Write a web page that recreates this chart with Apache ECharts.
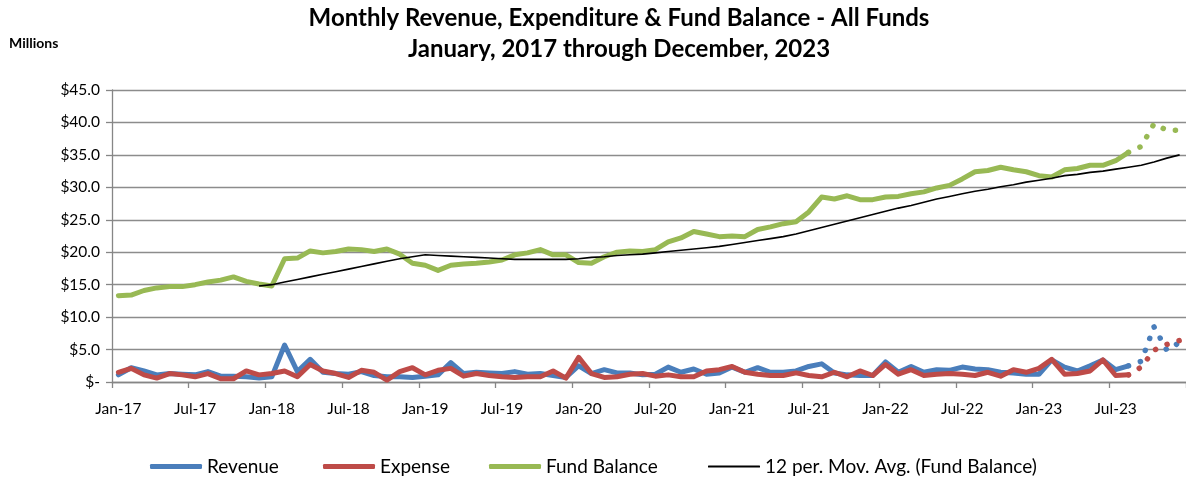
<!DOCTYPE html>
<html>
<head>
<meta charset="utf-8">
<script src="https://cdn.jsdelivr.net/npm/echarts@6/dist/echarts.min.js"></script>
<style>
    html, body { margin: 0; padding: 0; background: #fff; }
    #chart { width: 1186px; height: 479px; }
</style>
</head>
<body>
<div id="chart"></div>
<script>
// month labels Jan-17 .. Dec-23
const monthNames = ['Jan', 'Feb', 'Mar', 'Apr', 'May', 'Jun', 'Jul', 'Aug', 'Sep', 'Oct', 'Nov', 'Dec'];
const years = ['17', '18', '19', '20', '21', '22', '23'];
const categories = [];
years.forEach(y => monthNames.forEach(m => categories.push(m + '-' + y)));

// actuals, Jan-17 .. Aug-23 (millions)
const revenue = [
    1.1, 2.2, 1.7, 1.1, 1.3, 1.2, 1.1, 1.6, 0.9, 0.9, 0.8, 0.6,
    0.8, 5.7, 1.6, 3.5, 1.5, 1.3, 1.2, 1.6, 1.0, 0.8, 0.8, 0.7,
    0.9, 1.1, 3.0, 1.3, 1.5, 1.4, 1.3, 1.6, 1.2, 1.3, 1.0, 0.7,
    2.5, 1.3, 1.9, 1.4, 1.4, 1.1, 1.2, 2.3, 1.5, 2.0, 1.2, 1.4,
    2.3, 1.5, 2.2, 1.5, 1.5, 1.7, 2.4, 2.8, 1.4, 1.1, 1.0, 1.0,
    3.1, 1.5, 2.4, 1.5, 1.9, 1.8, 2.3, 2.0, 1.9, 1.5, 1.4, 1.2,
    1.2, 3.4, 2.3, 1.7, 2.5, 3.4, 1.9, 2.5
];
const expense = [
    1.5, 2.1, 1.1, 0.6, 1.3, 1.1, 0.8, 1.3, 0.5, 0.5, 1.7, 1.1,
    1.3, 1.7, 0.8, 2.7, 1.7, 1.3, 0.7, 1.8, 1.5, 0.3, 1.6, 2.2,
    1.1, 1.8, 2.1, 0.9, 1.3, 1.0, 0.8, 0.7, 0.8, 0.8, 1.7, 0.6,
    3.8, 1.3, 0.7, 0.8, 1.2, 1.3, 0.9, 1.1, 0.8, 0.8, 1.7, 1.9,
    2.4, 1.5, 1.2, 1.0, 1.0, 1.4, 1.0, 0.8, 1.5, 0.8, 1.7, 1.0,
    2.7, 1.2, 1.9, 1.0, 1.2, 1.3, 1.2, 1.0, 1.5, 0.9, 1.9, 1.5,
    2.1, 3.5, 1.2, 1.3, 1.7, 3.4, 1.0, 1.1
];
const fundBalance = [
    13.3, 13.4, 14.1, 14.5, 14.7, 14.7, 15.0, 15.4, 15.7, 16.2, 15.5, 15.1,
    14.8, 19.0, 19.1, 20.2, 19.9, 20.1, 20.5, 20.4, 20.1, 20.5, 19.7, 18.3,
    18.0, 17.2, 18.0, 18.2, 18.3, 18.5, 18.8, 19.6, 19.9, 20.4, 19.6, 19.6,
    18.4, 18.3, 19.3, 20.0, 20.2, 20.1, 20.4, 21.6, 22.2, 23.2, 22.8, 22.4,
    22.5, 22.4, 23.5, 23.9, 24.4, 24.7, 26.2, 28.5, 28.2, 28.7, 28.1, 28.1,
    28.5, 28.6, 29.0, 29.3, 29.9, 30.3, 31.3, 32.4, 32.6, 33.1, 32.7, 32.4,
    31.8, 31.6, 32.7, 32.9, 33.4, 33.4, 34.1, 35.4
];

// projections Sep-23 .. Dec-23 (dotted)
const revenueProj = [3.2, 8.5, 4.9, 6.1];
const expenseProj = [2.3, 4.9, 5.8, 6.4];
const fundProj = [36.3, 39.8, 38.8, 38.8];

// 12 per. moving average of fund balance, Dec-17 .. Dec-23
const maStart = 11;
const fundMovAvg = [
    14.8, 15.0, 15.4, 15.8, 16.2, 16.6, 17.0, 17.4, 17.8, 18.2, 18.6, 19.0, 19.3,
    19.6, 19.5, 19.4, 19.3, 19.2, 19.1, 19.0, 18.9, 18.9, 18.9, 18.9, 18.9,
    19.0, 19.2, 19.3, 19.5, 19.6, 19.7, 19.9, 20.1, 20.3, 20.5, 20.7, 20.9,
    21.2, 21.5, 21.8, 22.1, 22.4, 22.8, 23.3, 23.8, 24.3, 24.8, 25.3, 25.8,
    26.3, 26.8, 27.2, 27.7, 28.2, 28.6, 29.0, 29.4, 29.7, 30.1, 30.4, 30.8,
    31.1, 31.4, 31.8, 32.0, 32.3, 32.5, 32.8, 33.1, 33.4, 33.9, 34.5, 35.0
];

const yTicks = { min: 0, max: 45, step: 5 };

const C_REV = '#4A7EBB';
const C_EXP = '#BE4B48';
const C_FUND = '#98B954';
const FONT = 'Lato';

// dotted tail: starts at last actual point
function projData(actual, proj) {
    let out = [];
    for (let i = 0; i < actual.length - 1; i++) out.push(null);
    out.push(actual[actual.length - 1]);
    return out.concat(proj);
}

function padStart(n, arr) {
    let out = [];
    for (let i = 0; i < n; i++) out.push(null);
    return out.concat(arr);
}

let chart = echarts.init(document.getElementById('chart'));

function solidLine(name, data, color) {
    return {
        name: name,
        type: 'line',
        data: data,
        symbol: 'none',
        smooth: false,
        lineStyle: { color: color, width: 5, cap: 'round', join: 'round' },
        itemStyle: { color: color },
        z: 2
    };
}

function dottedLine(name, data, color) {
    return {
        name: name,
        type: 'line',
        data: data,
        symbol: 'none',
        connectNulls: false,
        lineStyle: { color: color, width: 5.5, type: [0.1, 12.5], cap: 'round' },
        itemStyle: { color: color },
        z: 2
    };
}

// one legend per item so each sits where the reference has it
function legendItem(name, left, color, h) {
    return {
        left: left,
        top: 452,
        itemWidth: 52,
        itemHeight: h,
        icon: 'roundRect',
        textStyle: { fontFamily: FONT, fontSize: 19, color: '#000' },
        data: [{ name: name, itemStyle: { color: color } }]
    };
}

let option = {
    animation: false,
    backgroundColor: '#fff',
    title: [
        {
            text: 'Monthly Revenue, Expenditure & Fund Balance - All Funds\nJanuary, 2017 through December, 2023',
            left: 619,
            top: 3,
            padding: 0,
            textAlign: 'center',
            textStyle: {
                fontFamily: FONT, fontWeight: 'bold', fontSize: 24,
                lineHeight: 31, color: '#000'
            }
        },
        {
            text: 'Millions',
            left: 9,
            top: 36,
            padding: 0,
            textStyle: { fontFamily: FONT, fontWeight: 'bold', fontSize: 14, color: '#000' }
        }
    ],
    legend: [
        legendItem('Revenue', 145, C_REV, 5),
        legendItem('Expense', 318, C_EXP, 5),
        legendItem('Fund Balance', 484, C_FUND, 5),
        legendItem('12 per. Mov. Avg. (Fund Balance)', 703, '#000', 2)
    ],
    grid: { left: 112, top: 90, width: 1077, height: 292 },
    xAxis: {
        type: 'category',
        data: categories,
        boundaryGap: true,
        axisLine: { lineStyle: { color: '#868686', width: 1.3 } },
        axisTick: { show: true, interval: 5, length: 6, lineStyle: { color: '#868686', width: 1.3 } },
        axisLabel: { interval: 5, margin: 19, fontFamily: FONT, fontSize: 15.5, color: '#000' },
        splitLine: { show: false }
    },
    yAxis: {
        type: 'value',
        min: yTicks.min,
        max: yTicks.max,
        interval: yTicks.step,
        axisLine: { show: true, lineStyle: { color: '#868686', width: 1.3 } },
        axisTick: { show: true, length: 6, lineStyle: { color: '#868686', width: 1.3 } },
        axisLabel: {
            margin: 12,
            fontFamily: FONT, fontSize: 15.5, color: '#000',
            formatter: v => v === 0 ? '$-' : '$' + v.toFixed(1)
        },
        splitLine: { lineStyle: { color: '#8C8C8C', width: 1.3 } }
    },
    series: [
        solidLine('Revenue', revenue, C_REV),
        solidLine('Expense', expense, C_EXP),
        dottedLine('Revenue proj', projData(revenue, revenueProj), C_REV),
        dottedLine('Expense proj', projData(expense, expenseProj), C_EXP),
        solidLine('Fund Balance', fundBalance, C_FUND),
        dottedLine('Fund Balance proj', projData(fundBalance, fundProj), C_FUND),
        {
            name: '12 per. Mov. Avg. (Fund Balance)',
            type: 'line',
            data: padStart(maStart, fundMovAvg),
            symbol: 'none',
            lineStyle: { color: '#000', width: 1.6 },
            itemStyle: { color: '#000' },
            z: 3
        }
    ]
};

chart.setOption(option);
</script>
</body>
</html>
